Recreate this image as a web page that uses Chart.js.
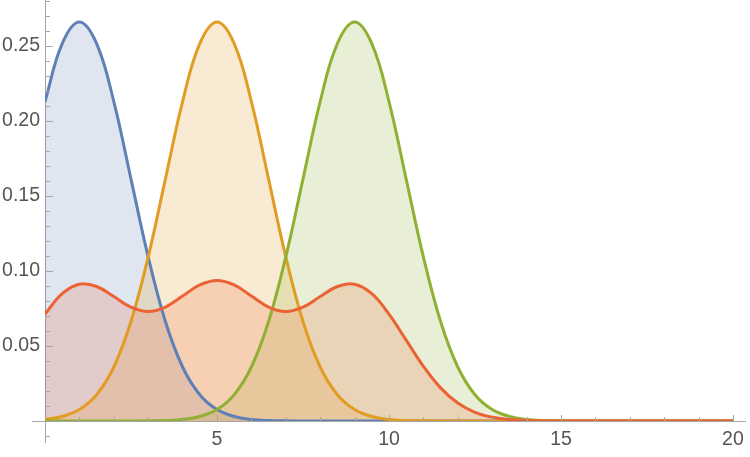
<!DOCTYPE html>
<html>
<head>
<meta charset="utf-8">
<script src="https://cdn.jsdelivr.net/npm/chart.js@4.4.1/dist/chart.umd.min.js"></script>
<style>
  html, body { margin: 0; padding: 0; background: #fff; }
  #wrap { width: 750px; height: 457px; }
</style>
</head>
<body>
<div id="wrap"><canvas id="chart" width="750" height="457"></canvas></div>
<script>
// x positions sampled every 0.5
const xValues = [0,0.5,1,1.5,2,2.5,3,3.5,4,4.5,5,5.5,6,6.5,7,7.5,8,8.5,9,9.5,10,
  10.5,11,11.5,12,12.5,13,13.5,14,14.5,15,15.5,16,16.5,17,17.5,18,18.5,19,19.5,20];

const blueValues = [0.213,0.2516,0.266,0.2516,0.213,0.1613,0.1094,0.0663,0.036,0.0175,0.0076,
  0.003,0.001,0.0003,0.0001,0,0,0,0,0,0,0,0,0,0,0,0,0,0,0,0,0,0,0,0,0,0,0,0,0,0];

const orangeValues = [0.001,0.003,0.0076,0.0175,0.036,0.0663,0.1094,0.1613,0.213,0.2516,0.266,
  0.2516,0.213,0.1613,0.1094,0.0663,0.036,0.0175,0.0076,0.003,0.001,0.0003,0.0001,
  0,0,0,0,0,0,0,0,0,0,0,0,0,0,0,0,0,0];

const greenValues = [0,0,0,0,0,0,0.0001,0.0003,0.001,0.003,0.0076,0.0175,0.036,0.0663,0.1094,
  0.1613,0.213,0.2516,0.266,0.2516,0.213,0.1613,0.1094,0.0663,0.036,0.0175,0.0076,0.003,
  0.001,0.0003,0.0001,0,0,0,0,0,0,0,0,0,0];

const redValues = [0.0713,0.0849,0.0912,0.0897,0.083,0.0759,0.073,0.076,0.0833,0.0907,0.0937,
  0.0907,0.0833,0.076,0.073,0.0759,0.083,0.0897,0.0912,0.0849,0.0713,0.0539,0.0365,0.0221,
  0.012,0.0058,0.0025,0.001,0.0003,0.0001,0,0,0,0,0,0,0,0,0,0,0];

const xTickLabels = [5, 10, 15, 20];
const yTickLabels = [0.05, 0.10, 0.15, 0.20, 0.25];

const axisColor = '#a6a6a6';

function series(ys) {
  return xValues.map((x, i) => ({ x: x, y: ys[i] }));
}

function makeSet(ys, line, fill, order) {
  return {
    data: series(ys),
    borderColor: line,
    backgroundColor: fill,
    borderWidth: 3,
    fill: 'origin',
    pointRadius: 0,
    tension: 0.4,
    order: order,
  };
}

// inward tick marks + small axis extensions past the origin
const axisTicks = {
  id: 'axisTicks',
  afterDraw(chart) {
    const ctx = chart.ctx;
    const xs = chart.scales.x, ys = chart.scales.y;
    const x0 = xs.getPixelForValue(0), y0 = ys.getPixelForValue(0);
    ctx.save();
    ctx.strokeStyle = axisColor;
    ctx.lineWidth = 1;
    ctx.beginPath();
    ctx.moveTo(32, y0 + 0.5); ctx.lineTo(x0, y0 + 0.5);
    ctx.moveTo(x0 + 0.5, y0); ctx.lineTo(x0 + 0.5, 443);
    for (let k = -1; k <= 28; k++) {
      if (k === 0) continue;
      const py = Math.round(ys.getPixelForValue(k / 100)) + 0.5;
      const len = k % 5 === 0 ? 8 : 5;
      ctx.moveTo(x0, py); ctx.lineTo(x0 + len, py);
    }
    for (let k = 1; k <= 20; k++) {
      const px = Math.round(xs.getPixelForValue(k)) + 0.5;
      const len = k % 5 === 0 ? 6 : 4;
      ctx.moveTo(px, y0); ctx.lineTo(px, y0 - len);
    }
    ctx.stroke();
    ctx.restore();
  }
};

new Chart(document.getElementById('chart'), {
  type: 'line',
  data: {
    datasets: [
      makeSet(blueValues, '#5e81b5', 'rgba(94,129,181,0.2)', 4),
      makeSet(orangeValues, '#e19c24', 'rgba(225,156,36,0.2)', 3),
      makeSet(greenValues, '#8fb032', 'rgba(143,176,50,0.2)', 2),
      makeSet(redValues, '#eb6235', 'rgba(235,98,53,0.2)', 1),
    ]
  },
  options: {
    responsive: false,
    devicePixelRatio: 1,
    animation: false,
    layout: { padding: { left: 0, right: 5, top: 0, bottom: 0 } },
    plugins: {
      legend: { display: false },
      tooltip: { enabled: false },
      filler: { drawTime: 'beforeDatasetsDraw' },
    },
    scales: {
      x: {
        type: 'linear',
        min: 0,
        max: 20.35,
        afterFit: s => { s.height = 36; s.paddingLeft = 0; s.paddingRight = 0; },
        afterBuildTicks: s => { s.ticks = xTickLabels.map(v => ({ value: v })); },
        border: { color: axisColor, width: 1 },
        grid: { drawOnChartArea: false, drawTicks: false },
        ticks: {
          padding: 7,
          color: '#555',
          font: { family: 'Liberation Sans', size: 19.5 },
          maxRotation: 0,
          callback: v => String(v),
        },
      },
      y: {
        min: 0,
        max: 0.2807,
        afterFit: s => { s.width = 45; s.paddingTop = 0; s.paddingBottom = 0; },
        afterBuildTicks: s => { s.ticks = yTickLabels.map(v => ({ value: v })); },
        border: { color: axisColor, width: 1 },
        grid: { drawOnChartArea: false, drawTicks: false },
        ticks: {
          padding: 5,
          color: '#555',
          font: { family: 'Liberation Sans', size: 19.5 },
          callback: v => v.toFixed(2),
        },
      },
    },
  },
  plugins: [axisTicks],
});
</script>
</body>
</html>
